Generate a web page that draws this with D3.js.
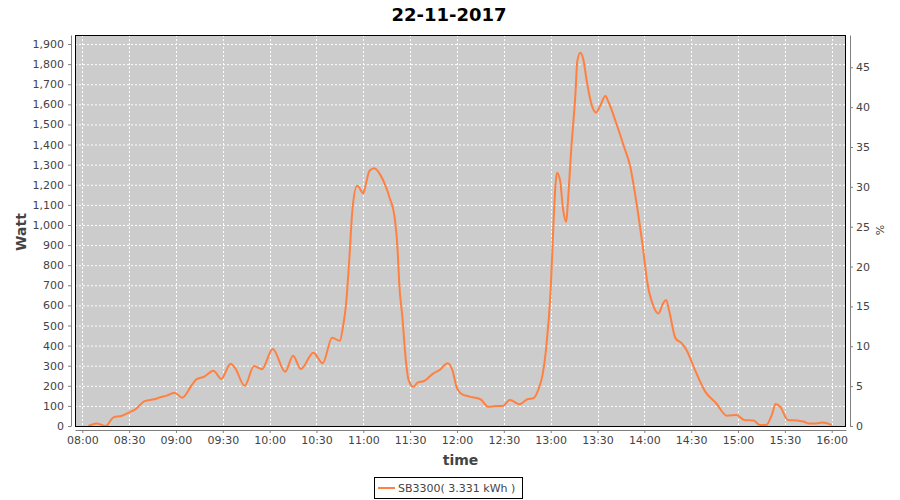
<!DOCTYPE html>
<html>
<head>
<meta charset="utf-8">
<script src="https://d3js.org/d3.v7.min.js"></script>
<style>
    body { margin: 0; background: #fff; }
    text { font-family: "DejaVu Sans", sans-serif; }
</style>
</head>
<body>
<div id="chart"></div>
<script>
var chartTitle = "22-11-2017";
var seriesName = "SB3300( 3.331 kWh )";

// sample times and power (W)
var times = ["08:04", "08:09", "08:15", "08:20", "08:25", "08:31", "08:34", "08:40", "08:46", "08:50",
    "08:54", "08:59", "09:04", "09:10", "09:13", "09:18", "09:24", "09:29", "09:35", "09:38",
    "09:44", "09:50", "09:55", "10:02", "10:10", "10:15", "10:20", "10:28", "10:34", "10:40",
    "10:45", "10:47", "10:49", "10:51", "10:53", "10:56", "10:57", "11:00", "11:01", "11:04",
    "11:07", "11:11", "11:14", "11:17", "11:20", "11:22", "11:23", "11:25", "11:27", "11:29",
    "11:32", "11:35", "11:39", "11:45", "11:49", "11:54", "11:57", "12:00", "12:03", "12:08",
    "12:15", "12:20", "12:25", "12:29", "12:34", "12:40", "12:45", "12:49", "12:52", "12:55",
    "12:57", "13:00", "13:02", "13:03", "13:04", "13:06", "13:08", "13:10", "13:11", "13:13",
    "13:16", "13:17", "13:19", "13:21", "13:23", "13:26", "13:29", "13:32", "13:35", "13:37",
    "13:42", "13:47", "13:51", "13:55", "13:59", "14:02", "14:06", "14:09", "14:12", "14:14",
    "14:16", "14:20", "14:24", "14:27", "14:32", "14:39", "14:46", "14:53", "14:59", "15:04",
    "15:10", "15:14", "15:18", "15:22", "15:24", "15:27", "15:32", "15:38", "15:42", "15:45",
    "15:50", "15:54", "16:00"];
var watts = [0, 13, 0, 43, 50, 71, 83, 124, 133, 143,
    151, 166, 141, 202, 232, 245, 275, 234, 310, 287,
    200, 298, 282, 383, 270, 350, 283, 365, 312, 439,
    424, 494, 610, 826, 1074, 1195, 1190, 1157, 1182, 1270,
    1282, 1248, 1199, 1132, 1041, 875, 710, 544, 345, 229,
    195, 217, 224, 262, 279, 312, 279, 188, 159, 146,
    133, 96, 99, 99, 129, 108, 133, 138, 179, 262,
    378, 676, 1041, 1190, 1260, 1224, 1074, 1016, 1108, 1356,
    1671, 1812, 1857, 1821, 1721, 1605, 1559, 1597, 1641, 1613,
    1506, 1389, 1290, 1108, 892, 710, 593, 560, 610, 627,
    569, 436, 411, 378, 287, 171, 113, 51, 55, 30,
    27, 5, 5, 63, 109, 96, 30, 27, 22, 13,
    13, 17, 5];

var xTicks = ["08:00", "08:30", "09:00", "09:30", "10:00", "10:30", "11:00", "11:30", "12:00",
    "12:30", "13:00", "13:30", "14:00", "14:30", "15:00", "15:30", "16:00"];
var xRange = ["07:55:20", "16:09:10"];
var wattTicks = [0, 100, 200, 300, 400, 500, 600, 700, 800, 900, 1000, 1100, 1200, 1300, 1400,
    1500, 1600, 1700, 1800, 1900];
var wattMax = 1945;
var pctTicks = [0, 5, 10, 15, 20, 25, 30, 35, 40, 45];
var pctMax = 49.05;

var drawChart = (function () {

    function go() {
        var width = 900, height = 500;
        var svg = d3.select("#chart").append("svg")
            .attr("width", width)
            .attr("height", height);

        var plot = {left: 75, right: 846, top: 35, bottom: 426};

        var parseTime = d3.timeParse("%H:%M");
        var parseTimeS = d3.timeParse("%H:%M:%S");
        var data = times.map(function (t, i) {
            return {date: parseTime(t), value: watts[i]};
        });

        var x = d3.scaleTime()
            .domain([parseTimeS(xRange[0]), parseTimeS(xRange[1])])
            .range([plot.left, plot.right]);
        var y = d3.scaleLinear().domain([0, wattMax]).range([plot.bottom, plot.top]);
        var y2 = d3.scaleLinear().domain([0, pctMax]).range([plot.bottom, plot.top]);

        var xTickDates = xTicks.map(function (t) { return parseTime(t); });

        // title
        svg.append("text")
            .attr("x", 449)
            .attr("y", 21)
            .attr("text-anchor", "middle")
            .style("font-size", "18px")
            .style("font-weight", "bold")
            .attr("fill", "#000")
            .text(chartTitle);

        // plot background
        svg.append("rect")
            .attr("x", plot.left)
            .attr("y", plot.top)
            .attr("width", plot.right - plot.left)
            .attr("height", plot.bottom - plot.top)
            .attr("fill", "#cccccc");

        // grid
        var grid = svg.append("g").attr("class", "grid");
        grid.selectAll("line.h")
            .data(wattTicks.filter(function (d) { return d > 0; }))
            .enter().append("line")
            .attr("class", "h")
            .attr("x1", plot.left).attr("x2", plot.right)
            .attr("y1", function (d) { return y(d) + 0.5; })
            .attr("y2", function (d) { return y(d) + 0.5; });
        grid.selectAll("line.v")
            .data(xTickDates)
            .enter().append("line")
            .attr("class", "v")
            .attr("y1", plot.top).attr("y2", plot.bottom)
            .attr("x1", function (d) { return Math.round(x(d)) + 0.5; })
            .attr("x2", function (d) { return Math.round(x(d)) + 0.5; });
        grid.selectAll("line")
            .attr("stroke", "#fff")
            .attr("stroke-width", 1)
            .attr("stroke-dasharray", "2,2");

        // line
        var line = d3.line()
            .curve(d3.curveMonotoneX)
            .x(function (d) { return x(d.date); })
            .y(function (d) { return y(d.value); });

        svg.append("path")
            .datum(data)
            .attr("fill", "none")
            .attr("stroke", "#ff8040")
            .attr("stroke-width", 2)
            .attr("stroke-linejoin", "round")
            .attr("d", line);

        // plot border
        svg.append("rect")
            .attr("x", plot.left + 0.5)
            .attr("y", plot.top + 0.5)
            .attr("width", plot.right - plot.left - 1)
            .attr("height", plot.bottom - plot.top)
            .attr("fill", "none")
            .attr("stroke", "#000")
            .attr("stroke-width", 1);

        // axes
        var axisColor = "#808080", labelColor = "#444";

        var yAxis = svg.append("g")
            .attr("transform", "translate(" + (plot.left - 4) + ",0)")
            .call(d3.axisLeft(y).tickValues(wattTicks).tickFormat(d3.format(",")).tickSize(3).tickSizeOuter(0).tickPadding(4));

        var y2Axis = svg.append("g")
            .attr("transform", "translate(" + (plot.right + 4) + ",0)")
            .call(d3.axisRight(y2).tickValues(pctTicks).tickSize(3).tickSizeOuter(0).tickPadding(3));

        var xAxis = svg.append("g")
            .attr("transform", "translate(0," + (plot.bottom + 4) + ")")
            .call(d3.axisBottom(x).tickValues(xTickDates).tickFormat(d3.timeFormat("%H:%M")).tickSize(3).tickSizeOuter(0).tickPadding(3));

        [yAxis, y2Axis, xAxis].forEach(function (a) {
            a.select(".domain").attr("stroke", axisColor);
            a.selectAll(".tick line").attr("stroke", axisColor);
            a.selectAll(".tick text")
                .attr("fill", labelColor)
                .style("font-family", "'DejaVu Sans', sans-serif")
                .style("font-size", "11px");
        });

        // axis titles
        svg.append("text")
            .attr("transform", "translate(26,232) rotate(-90)")
            .attr("text-anchor", "middle")
            .style("font-size", "14px")
            .style("font-weight", "bold")
            .attr("fill", "#444")
            .text("Watt");

        svg.append("text")
            .attr("transform", "translate(884,230) rotate(-90)")
            .attr("text-anchor", "middle")
            .style("font-size", "11px")
            .attr("fill", "#444")
            .text("%");

        svg.append("text")
            .attr("x", (plot.left + plot.right) / 2)
            .attr("y", 465)
            .attr("text-anchor", "middle")
            .style("font-size", "14px")
            .style("font-weight", "bold")
            .attr("fill", "#444")
            .text("time");

        // legend
        var legend = svg.append("g").attr("class", "legend");
        legend.append("rect")
            .attr("x", 374.5).attr("y", 477.5)
            .attr("width", 148).attr("height", 21)
            .attr("fill", "#fff")
            .attr("stroke", "#000");
        legend.append("line")
            .attr("x1", 378).attr("x2", 395)
            .attr("y1", 488).attr("y2", 488)
            .attr("stroke", "#ff8040")
            .attr("stroke-width", 2);
        legend.append("text")
            .attr("x", 398)
            .attr("y", 492)
            .style("font-size", "11px")
            .attr("fill", "#444")
            .text(seriesName);
    }

    document.addEventListener("DOMContentLoaded", function (event) {
        go();
    });
}());
</script>
</body>
</html>
